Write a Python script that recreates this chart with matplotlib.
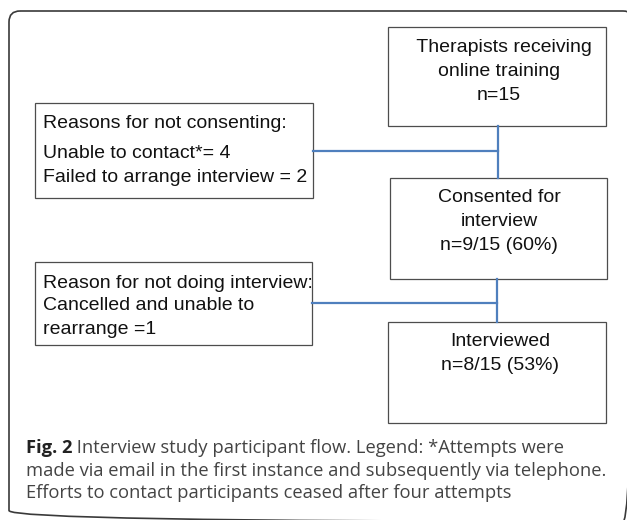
import matplotlib.pyplot as plt
from matplotlib.patches import Rectangle, FancyBboxPatch

# text of the flow chart boxes (one string per line)
box_train = ["  Therapists receiving", "online training", "n=15"]
box_consent = ["Consented for", "interview", "n=9/15 (60%)"]
box_interv = ["Interviewed", "n=8/15 (53%)"]
box_noconsent = ["Reasons for not consenting:", "Unable to contact*= 4",
                 "Failed to arrange interview = 2"]
box_nointerv = ["Reason for not doing interview:", "Cancelled and unable to",
                "rearrange =1"]

cap_bold = "Fig. 2"
cap_lines = [" Interview study participant flow. Legend: *Attempts were",
             "made via email in the first instance and subsequently via telephone.",
             "Efforts to contact participants ceased after four attempts"]

BOX_FONT = ["Liberation Sans", "DejaVu Sans"]
CAP_FONT = ["Open Sans", "DejaVu Sans"]
EDGE = "#4d4d4d"
LINK = "#4f7fbd"

fig = plt.figure(figsize=(6.27, 5.20), dpi=100)
ax = fig.add_axes([0, 0, 1, 1])
ax.set_xlim(0, 627)
ax.set_ylim(520, 0)  # pixel-like coords, y down
ax.axis("off")

# outer rounded frame (runs off the right and bottom edge)
frame = FancyBboxPatch((9, 11), 625, 510.5, boxstyle="round,pad=0,rounding_size=11",
                       fill=False, ec="#3a3a3a", lw=1.2, clip_on=True)
ax.add_patch(frame)


def draw_box(x0, y0, x1, y1, lines, ys, align="center", tx=None):
    ax.add_patch(Rectangle((x0, y0), x1 - x0, y1 - y0, fill=False, ec=EDGE, lw=0.9))
    if tx is None:
        tx = (x0 + x1) / 2
    for s, yy in zip(lines, ys):
        ax.text(tx, yy, s, ha=align, va="center", fontsize=14,
                family=BOX_FONT, color="#111111")


draw_box(388, 27, 606, 126, box_train, [47, 71, 96], tx=499)
draw_box(390, 178, 607, 279, box_consent, [198, 222, 246], tx=499)
draw_box(388, 322, 606, 423, box_interv, [342, 366], tx=500)
draw_box(35, 103, 313, 198, box_noconsent, [124, 154, 177], align="left", tx=43)
draw_box(35, 262, 312, 345, box_nointerv, [284, 306, 329], align="left", tx=43)

# connectors
ax.plot([498, 498], [126, 178], color=LINK, lw=1.6)
ax.plot([313, 498], [151, 151], color=LINK, lw=1.6)
ax.plot([497, 497], [279, 322], color=LINK, lw=1.6)
ax.plot([312, 497], [303, 303], color=LINK, lw=1.6)

# caption
cap_y = [453, 476, 498]
t = ax.text(26, cap_y[0], cap_bold, ha="left", va="baseline", fontsize=13.2,
            family=CAP_FONT, weight="bold", color="#222222")
ax.annotate(cap_lines[0], xy=(1, 0), xycoords=t, ha="left", va="bottom",
            fontsize=13.2, family=CAP_FONT, color="#444444")
for s, yy in zip(cap_lines[1:], cap_y[1:]):
    ax.text(26, yy, s, ha="left", va="baseline", fontsize=13.2,
            family=CAP_FONT, color="#444444")

fig.savefig("out.png", dpi=100)
